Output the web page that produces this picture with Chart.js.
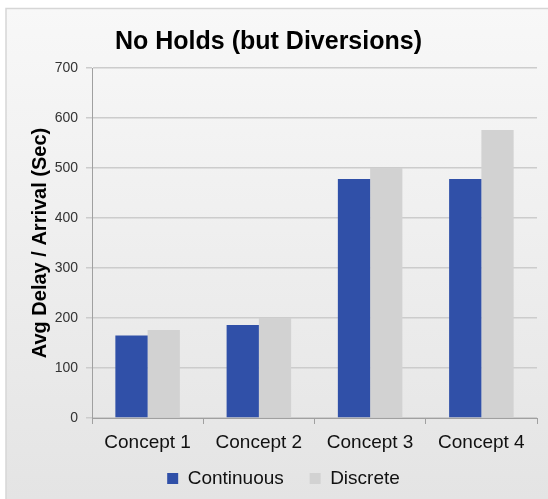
<!DOCTYPE html>
<html>
<head>
<meta charset="utf-8">
<script src="https://cdn.jsdelivr.net/npm/chart.js@4"></script>
<style>
  html, body { margin: 0; padding: 0; background: #ffffff; }
  #wrap { width: 548px; height: 499px; }
</style>
</head>
<body>
<div id="wrap"><canvas id="grafica" width="548" height="499"></canvas></div>
<script>
// datos
const categorias = ['Concept 1', 'Concept 2', 'Concept 3', 'Concept 4'];
const continuo = [165, 186, 478, 478];
const discreto = [176, 200, 500, 576];
const ticksY = [0, 100, 200, 300, 400, 500, 600, 700];

// fondo con degradado y borde
const fondo = {
    id: 'fondo',
    beforeDraw(chart) {
        const { ctx, width, height } = chart;
        ctx.save();
        ctx.fillStyle = '#ffffff';
        ctx.fillRect(0, 0, width, height);
        const g = ctx.createLinearGradient(0, 8, 0, height);
        g.addColorStop(0, '#f8f8f8');
        g.addColorStop(1, '#e4e4e4');
        ctx.fillStyle = g;
        ctx.fillRect(6, 8, width - 6, height - 8);
        ctx.strokeStyle = '#d6d6d6';
        ctx.lineWidth = 1.5;
        ctx.strokeRect(6, 8.5, width, height);
        ctx.restore();
    }
};

// desplaza un poco la leyenda hacia la derecha
const leyendaDerecha = {
    id: 'leyendaDerecha',
    afterLayout(chart) {
        if (chart.legend) chart.legend.left += 30;
    }
};

const fuente = 'Liberation Sans, Arial, sans-serif';

const ctx = document.getElementById('grafica').getContext('2d');
new Chart(ctx, {
    type: 'bar',
    data: {
        labels: categorias,
        datasets: [
            {
                label: 'Continuous',
                data: continuo,
                backgroundColor: '#3050a8',
                categoryPercentage: 0.58,
                barPercentage: 1
            },
            {
                label: 'Discrete',
                data: discreto,
                backgroundColor: '#d2d2d2',
                categoryPercentage: 0.58,
                barPercentage: 1
            }
        ]
    },
    options: {
        responsive: false,
        animation: false,
        layout: { padding: { left: 0, right: 11, top: 14, bottom: 1 } },
        plugins: {
            title: {
                display: true,
                text: 'No Holds (but Diversions)',
                color: '#000000',
                font: { family: fuente, size: 25, weight: 'bold' },
                padding: { top: 13, bottom: 11 }
            },
            legend: {
                position: 'bottom',
                labels: {
                    color: '#111111',
                    font: { family: fuente, size: 19 },
                    boxWidth: 11,
                    boxHeight: 11,
                    padding: 10,
                    generateLabels(chart) {
                        const items = Chart.defaults.plugins.legend.labels.generateLabels(chart);
                        // separacion extra entre las dos entradas
                        items[0].text = items[0].text + '   ';
                        return items;
                    }
                }
            },
            tooltip: { enabled: false }
        },
        scales: {
            x: {
                afterFit(scale) { scale.height = 41; },
                grid: {
                    display: true,
                    drawOnChartArea: false,
                    color: '#a0a0a0',
                    tickLength: 6,
                    offset: true
                },
                border: { color: '#a0a0a0' },
                ticks: {
                    color: '#111111',
                    font: { family: fuente, size: 19 },
                    padding: 7
                }
            },
            y: {
                min: 0,
                max: 700,
                afterFit(scale) { scale.width = 92; },
                afterBuildTicks(scale) {
                    scale.ticks = ticksY.map(v => ({ value: v }));
                },
                grid: { color: '#cccccc', tickLength: 6, lineWidth: 1.5 },
                border: { color: '#a0a0a0' },
                ticks: {
                    color: '#333333',
                    font: { family: fuente, size: 14 },
                    padding: 8
                },
                title: {
                    display: true,
                    text: 'Avg Delay / Arrival (Sec)',
                    color: '#000000',
                    font: { family: fuente, size: 20, weight: 'bold' },
                    padding: { top: 28, bottom: 0 }
                }
            }
        }
    },
    plugins: [fondo, leyendaDerecha]
});
</script>
</body>
</html>
